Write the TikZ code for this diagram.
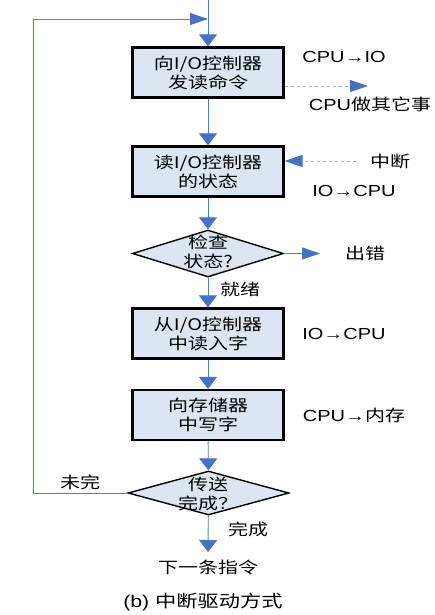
\documentclass[tikz,border=0pt]{standalone}
\usepackage{fontspec}
\setmainfont{Liberation Sans}[FakeStretch=1.25]
\newfontfamily\cjk{Noto Sans CJK SC}[FakeStretch=1.25]
\usetikzlibrary{arrows.meta,shapes.geometric}
\definecolor{boxfill}{HTML}{DCE6F2}
\definecolor{flowblue}{HTML}{4F81BD}
\definecolor{tipblue}{HTML}{4472C4}
\definecolor{dashblue}{HTML}{95B3D7}

\tikzset{
  proc/.style={draw=black, line width=2.2pt, fill=boxfill, minimum width=151pt,
    minimum height=50pt, align=center, inner sep=0pt},
  test/.style={diamond, draw=black, line width=1.4pt, fill=boxfill, inner sep=0pt},
  flow/.style={draw=flowblue, line width=0.9pt},
  vflow/.style={flow, -{Triangle[width=18pt,length=12pt,color=tipblue]}},
  hflow/.style={flow, -{Triangle[width=12pt,length=18pt,color=tipblue]}},
  dashflow/.style={draw=dashblue, line width=0.9pt, dashed,
    -{Triangle[width=12pt,length=18pt,color=tipblue]}},
}

\begin{document}
\begin{tikzpicture}[x=1pt, y=-1pt, font=\fontsize{16}{19}\selectfont\cjk]

    \useasboundingbox (0,0) rectangle (435,615);

    % 1. 流程框
    \node[proc] (b1) at (208,72.5) {向I/O控制器\\发读命令};
    \node[proc] (b2) at (208,171.5) {读I/O控制器\\的状态};
    \node[test, minimum width=151pt, minimum height=47pt] (chk) at (208,253.5) {};
    \node[align=center, inner sep=0pt] (chk-t) at (208,252) {检查\\状态?};
    \node[proc] (b3) at (208,333.5) {从I/O控制器\\中读入字};
    \node[proc] (b4) at (208,415) {向存储器\\中写字};
    \node[test, minimum width=161pt, minimum height=44pt] (done) at (208.5,493) {};
    \node[align=center, inner sep=0pt] (done-t) at (208,494) {传送\\完成？};
    \node (next) at (208,567) {下一条指令};

    % 2. 辅助坐标
    \coordinate (top) at (208,0);
    \coordinate (join) at (208,19);
    \coordinate (loopt) at (33,19);
    \coordinate (loopb) at (33,493);
    \coordinate (other) at (368,86);
    \coordinate (irq) at (356,161);
    \coordinate (err) at (320,253.5);
    \coordinate (nxt) at (208,552);

    % 3. 主流程箭头
    \draw[vflow] (top) -- (b1);
    \draw[vflow] (b1) -- (b2);
    \draw[vflow] (b2) -- (chk);
    \draw[vflow] (chk) -- (b3);
    \draw[vflow] (b3) -- (b4);
    \draw[vflow] (b4) -- (done);
    \draw[vflow] (done) -- (nxt);

    % 4. 循环回线与出错
    \draw[hflow] (done.west) -- (loopb) -- (loopt) -- (join);
    \draw[hflow] (chk.east) -- (err);

    % 5. 虚线箭头
    \draw[dashflow] (b1.east |- other) -- (other);
    \draw[dashflow] (irq) -- (irq -| b2.east);

    % 6. 旁注文字
    \node (l1) at (344,57) {\rmfamily CPU→IO};
    \node (l2) at (370,104) {\rmfamily CPU{\cjk 做其它事}};
    \node (l3) at (390,161) {中断};
    \node (l4) at (354,191) {\rmfamily IO→CPU};
    \node (l5) at (365,253) {出错};
    \node (l6) at (240,289) {就绪};
    \node (l7) at (344,334) {\rmfamily IO→CPU};
    \node (l8) at (354,415) {\rmfamily CPU→{\cjk 内存}};
    \node (l9) at (80,482) {未完};
    \node (l10) at (248,529) {完成};

    % 7. 标题
    \node (cap) at (203,602) {\fontsize{17}{20}\selectfont\rmfamily (b) {\cjk 中断驱动方式}};

\end{tikzpicture}
\end{document}
